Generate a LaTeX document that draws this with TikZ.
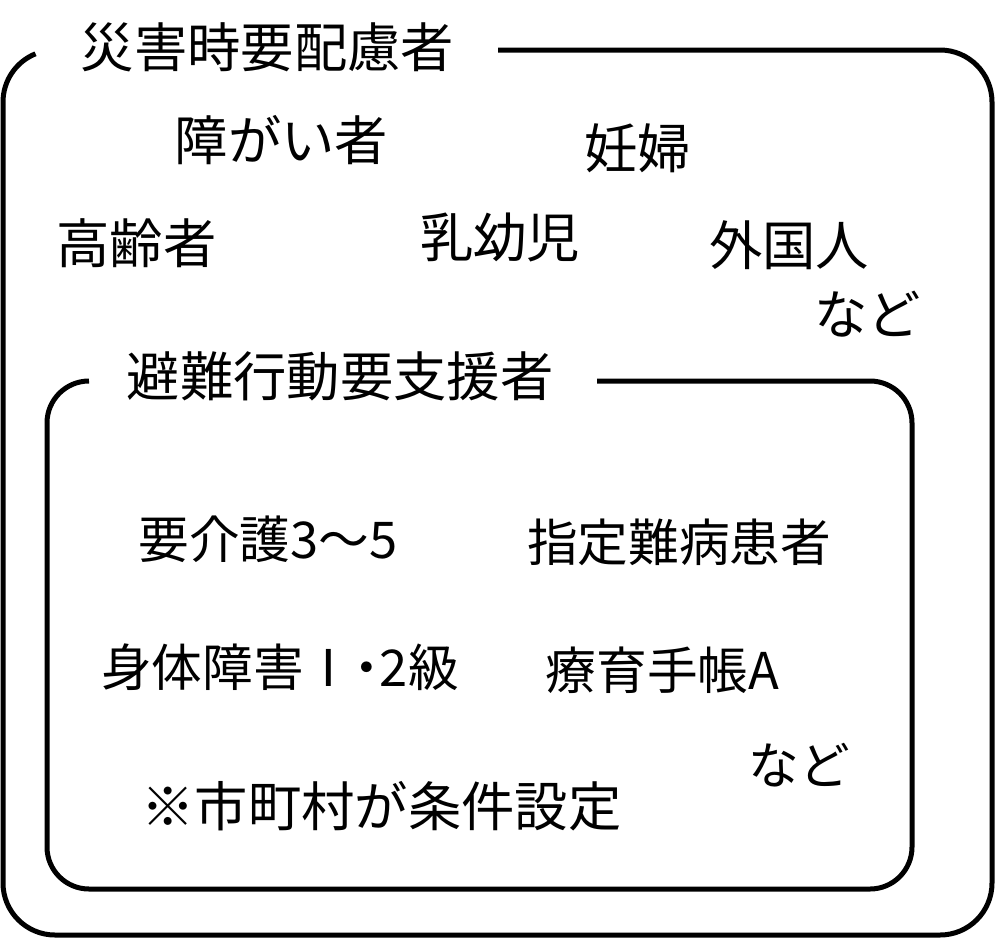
\documentclass[tikz,border=0pt]{standalone}
\usepackage{fontspec}
\setmainfont{Noto Sans CJK JP}

\tikzset{every picture/.style={line width=3.75pt}}
\tikzset{
	group label/.style={inner sep=0pt, font=\fontsize{40}{48}\selectfont},
	item label/.style={inner sep=0pt, font=\fontsize{40}{48}\selectfont},
	inner item/.style={inner sep=0pt, font=\fontsize{38}{46}\selectfont}}

\begin{document}
\begin{tikzpicture}[x=0.75pt,y=0.75pt,yscale=-1,xscale=1]
	%set diagram left start at 0, and has height of 940
	\path (0,0) rectangle (996,940);

	%Shape: Rounded Rectangle (outer, open at the label) 
	\draw  (498,50) -- (940,50) arc (-90:0:52) -- (992,883) arc (0:90:52) -- (55,935) arc (90:180:52) -- (3,102) arc (180:248:52) ;
	%Shape: Rounded Rectangle (inner, open at the label) 
	\draw  (597,381) -- (870,381) arc (-90:0:42) -- (912,847) arc (0:90:42) -- (89,889) arc (90:180:42) -- (47,423) arc (180:270:42) ;

	% Text Node
	\draw (267.5,47) node [group label] (caretitle) {災害時要配慮者};
	% Text Node
	\draw (281.5,140) node [item label] (disabled) {障がい者};
	% Text Node
	\draw (637.5,148) node [item label] (pregnant) {妊婦};
	% Text Node
	\draw (136.5,243) node [item label] (elderly) {高齢者};
	% Text Node
	\draw (500,237) node [item label] (infant) {乳幼児};
	% Text Node
	\draw (789,245) node [item label] (foreigner) {外国人};
	% Text Node
	\draw (867.5,314) node [item label] (outeretc) {など};
	% Text Node
	\draw (340,376) node [group label] (supporttitle) {避難行動要支援者};
	% Text Node
	\draw (268,539) node [inner item] (nursing) {要介護3～5};
	% Text Node
	\draw (679,542) node [inner item] (intractable) {指定難病患者};
	% Text Node
	\draw (280,667) node [inner item] (physical) {身体障害{\addfontfeatures{RawFeature=+palt}Ⅰ・}2級};
	% Text Node
	\draw (662.5,670) node [inner item] (rehab) {療育手帳A};
	% Text Node
	\draw (799,765) node [inner item] (inneretc) {など};
	% Text Node
	\draw (381.5,806) node [item label] (citynote) {※市町村が条件設定};

\end{tikzpicture}
\end{document}
